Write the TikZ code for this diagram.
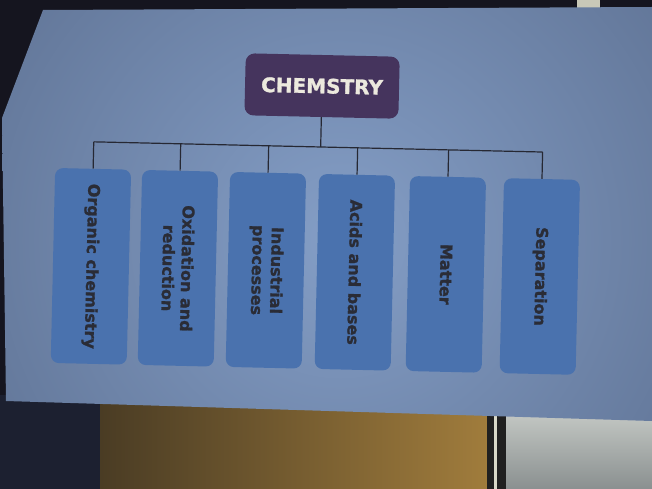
\documentclass[tikz,border=0pt]{standalone}
\usepackage{fontspec}
\setmainfont{DejaVu Sans}
\newfontfamily\heavyfont[FakeBold=1.4]{DejaVu Sans Bold}
\definecolor{bgdark}{HTML}{15151F}
\definecolor{paperhi}{HTML}{849EC6}
\definecolor{paperlo}{HTML}{5C6F90}
\definecolor{boxblue}{HTML}{4A72AE}
\definecolor{chempurple}{HTML}{45345D}
\definecolor{chemtext}{HTML}{ECE9DE}
\definecolor{inkdark}{HTML}{2A2C36}
\definecolor{linedark}{HTML}{262833}
\definecolor{brownL}{HTML}{4A3C24}
\definecolor{brownR}{HTML}{A07C3C}
\definecolor{greyhi}{HTML}{C4C8C4}
\definecolor{greylo}{HTML}{8A9090}
\definecolor{patchlight}{HTML}{C8C8B8}
\definecolor{floorblue}{HTML}{1C2030}
\definecolor{stripedark}{HTML}{202020}
\definecolor{stripelight}{HTML}{D8D8C8}
\begin{document}
\begin{tikzpicture}[x=1pt,y=1pt,
  topic/.style={fill=boxblue, rounded corners=8pt, rotate=-90,
    minimum width=195pt, minimum height=76pt, text=inkdark,
    font=\heavyfont\fontsize{16}{19}\selectfont, align=center, inner sep=2pt},
  root/.style={fill=chempurple, rounded corners=9pt, minimum width=154pt,
    minimum height=62pt, text=chemtext, font=\heavyfont\fontsize{20}{23}\selectfont},
  link/.style={draw=linedark, line width=1.2pt}]
\useasboundingbox (0,0) rectangle (652,-489);
% surroundings of the photographed sheet
\fill[bgdark] (0,0) rectangle (652,-489);
\fill[patchlight] (577,0) rectangle (600,-8);
\fill[floorblue] (0,-395) rectangle (102,-489);
\shade[left color=brownL, right color=brownR] (100,-400) -- (487,-412) -- (487,-489) -- (100,-489) -- cycle;
\fill[stripedark] (487,-410) rectangle (506,-489);
\fill[stripelight] (494,-412) rectangle (497,-489);
\shade[top color=greyhi, bottom color=greylo] (506,-412) rectangle (652,-489);
% the sheet
\begin{scope}
  \clip (43,-10) -- (652,-7) -- (652,-421) -- (6,-401) -- (2,-118) -- cycle;
  \shade[inner color=paperhi, outer color=paperlo] (340,-240) circle (480);
\end{scope}
% the diagram
\begin{scope}[rotate around={-1.3:(320,-265)}, transform shape]
  \node[root] (chem) at (318,-86) {CHEMSTRY};
  \node[topic] (t1) at (91,-271.5) {Organic chemistry};
  \node[topic] (t2) at (178,-271.5) {Oxidation and\\reduction};
  \node[topic] (t3) at (266,-271.5) {Industrial\\processes};
  \node[topic] (t4) at (355,-271.5) {Acids and bases};
  \node[topic] (t5) at (446,-271.5) {Matter};
  \node[topic] (t6) at (540,-271.5) {Separation};
  \coordinate (hub) at (318,-147);
  \coordinate (b1) at (91,-147);
  \coordinate (b2) at (178,-147);
  \coordinate (b3) at (266,-147);
  \coordinate (b4) at (355,-147);
  \coordinate (b5) at (446,-147);
  \coordinate (b6) at (540,-147);
  \draw[link] (chem.south) -- (hub);
  \draw[link] (b1) -- (b6);
  \draw[link] (b1) -- (t1.west);
  \draw[link] (b2) -- (t2.west);
  \draw[link] (b3) -- (t3.west);
  \draw[link] (b4) -- (t4.west);
  \draw[link] (b5) -- (t5.west);
  \draw[link] (b6) -- (t6.west);
\end{scope}
\end{tikzpicture}
\end{document}
